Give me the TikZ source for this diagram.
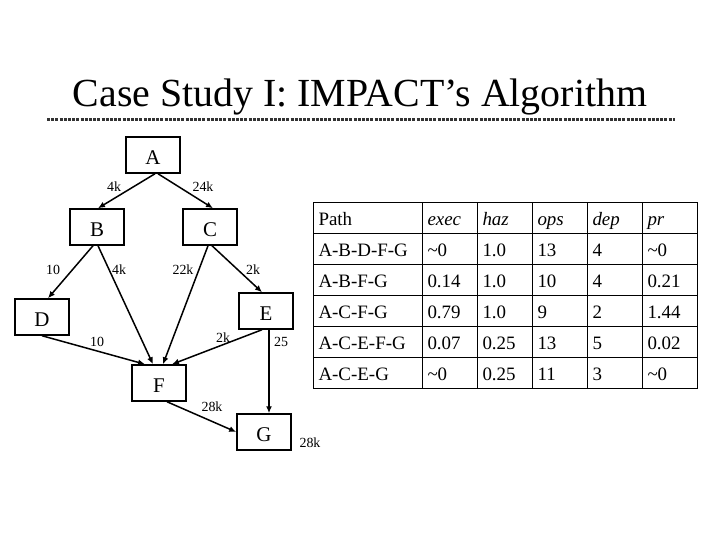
\documentclass[tikz,border=0pt]{standalone}
\usepackage{fontspec}
\setmainfont{Liberation Serif}
\usetikzlibrary{positioning, arrows.meta, matrix}

\begin{document}
\begin{tikzpicture}[x=1bp, y=-1bp,
  box/.style={draw, line width=1.5bp, minimum width=54bp, minimum height=36bp, inner sep=0pt, text height=19bp, text depth=0pt, font=\fontsize{21}{24}\selectfont},
  lbl/.style={font=\fontsize{14}{16}\selectfont, inner sep=1pt},
  arr/.style={-{Latex[length=7bp, width=6bp]}, line width=1.5bp},
  cell/.style={draw, line width=1.5bp, minimum height=31bp, text height=16bp, text depth=1bp, inner xsep=5bp, inner ysep=0pt, align=left, font=\fontsize{19}{22}\selectfont},
  rule/.style={line width=3bp, black!80, dash pattern=on 3bp off 1.2bp}
]
  \path[use as bounding box, fill=white] (0,0) rectangle (720,540);

  % title
  \node[font=\fontsize{40}{48}\selectfont, anchor=base, inner sep=0pt] (title) at (360,107) {Case Study I: IMPACT’s Algorithm};
  \draw[rule] (47,120) -- (675,120);

  % graph
  \node[box] (a) at (153,155) {A};
  \node[box] (b) at (97,227) {B};
  \node[box] (c) at (210,227) {C};
  \node[box] (d) at (42,317) {D};
  \node[box] (e) at (266,311) {E};
  \node[box] (f) at (159,383) {F};
  \node[box] (g) at (264,432) {G};

  \draw[arr] ([xshift=2bp]a.south) -- ([xshift=1bp]b.north);
  \draw[arr] ([xshift=5bp]a.south) -- ([xshift=3bp]c.north);
  \draw[arr] ([xshift=-4bp]b.south) -- ([xshift=6bp]d.north);
  \draw[arr] ([xshift=1bp]b.south) -- ([xshift=-6bp]f.north);
  \draw[arr] ([xshift=-2bp]c.south) -- ([xshift=4bp]f.north);
  \draw[arr] ([xshift=2bp]c.south) -- ([xshift=-4bp]e.north);
  \draw[arr] (d.south) -- ([xshift=-14bp]f.north);
  \draw[arr] ([xshift=-4bp]e.south) -- ([xshift=13bp]f.north);
  \draw[arr] ([xshift=3bp]e.south) -- ([xshift=3bp]e.south |- g.north);
  \draw[arr] ([xshift=8bp]f.south) -- (g.west);

  % edge labels
  \node[lbl] (ab) at (114,187) {4k};
  \node[lbl] (ac) at (203,187) {24k};
  \node[lbl] (bd) at (53,270) {10};
  \node[lbl] (bf) at (119,270) {4k};
  \node[lbl] (cf) at (183,270) {22k};
  \node[lbl] (ce) at (253,270) {2k};
  \node[lbl] (df) at (97,342) {10};
  \node[lbl] (ef) at (223,338) {2k};
  \node[lbl] (eg) at (281,342) {25};
  \node[lbl] (fg) at (212,407) {28k};
  \node[lbl] (gout) at (310,443) {28k};

  % path table
  \matrix (tbl) [matrix of nodes, nodes={cell, text width=45bp},
    column 1/.style={nodes={text width=99bp}},
    row sep=-1.5bp, column sep=-1.5bp] at (505.5,295.5) {
    Path & \itshape exec & \itshape haz & \itshape ops & \itshape dep & \itshape pr \\
    A-B-D-F-G & \textasciitilde0 & 1.0 & 13 & 4 & \textasciitilde0 \\
    A-B-F-G & 0.14 & 1.0 & 10 & 4 & 0.21 \\
    A-C-F-G & 0.79 & 1.0 & 9 & 2 & 1.44 \\
    A-C-E-F-G & 0.07 & 0.25 & 13 & 5 & 0.02 \\
    A-C-E-G & \textasciitilde0 & 0.25 & 11 & 3 & \textasciitilde0 \\
  };
\end{tikzpicture}
\end{document}
